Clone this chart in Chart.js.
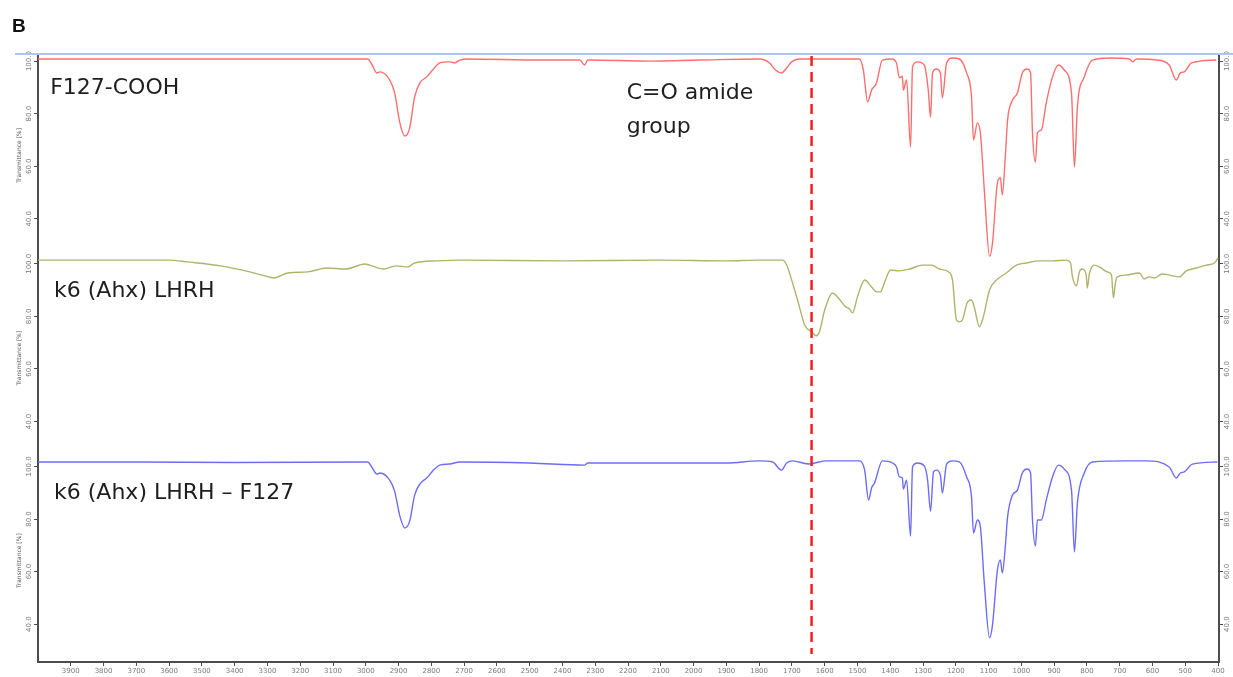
<!DOCTYPE html>
<html>
<head>
<meta charset="utf-8">
<script src="https://cdn.jsdelivr.net/npm/chart.js@4.4.1/dist/chart.umd.min.js"></script>
<style>
  html, body { margin: 0; padding: 0; background: #fff; }
  #wrap { position: relative; width: 1233px; height: 677px; }
  #tag { position: absolute; left: 12px; top: 15px; font: bold 19px "Liberation Sans", Arial, sans-serif; color: #111; }
</style>
</head>
<body>
<div id="wrap">
  <canvas id="ftir" width="1233" height="677"></canvas>
  <div id="tag">B</div>
</div>
<script>
// FTIR spectra, wavenumber (cm-1) vs transmittance (%)
const names = ['F127-COOH', 'k6 (Ahx) LHRH', 'k6 (Ahx) LHRH \u2013 F127'];

const redWn = [
  4000, 3506, 2994, 2982, 2966, 2957, 2927, 2912, 2896, 2881,
  2866, 2851, 2835, 2814, 2796, 2774, 2744, 2729, 2713, 2692,
  2469, 2347, 2332, 2323, 2134, 1982, 1799, 1768, 1750, 1732,
  1716, 1701, 1677, 1494, 1482, 1469, 1457, 1442, 1424, 1396,
  1381, 1372, 1363, 1360, 1350, 1338, 1332, 1317, 1296, 1284,
  1277, 1271, 1259, 1247, 1241, 1228, 1210, 1189, 1167, 1152,
  1146, 1134, 1125, 1113, 1097, 1088, 1073, 1064, 1058, 1049,
  1042, 1027, 1012, 997, 982, 972, 966, 957, 951, 939,
  924, 905, 887, 869, 847, 838, 829, 808, 783, 731,
  670, 661, 649, 588, 549, 527, 515, 503, 481, 405];
const redT = [
  100.8, 100.8, 100.8, 98.9, 95.5, 95.9, 92.8, 87.9, 76.5, 71.5,
  74.6, 86.4, 91.7, 94.0, 96.6, 99.3, 99.7, 99.3, 100.4, 100.8,
  100.4, 100.4, 98.5, 100.4, 100.0, 100.4, 100.8, 99.3, 96.6, 95.5,
  97.4, 99.7, 100.8, 100.8, 96.6, 84.5, 89.0, 91.7, 100.4, 100.8,
  99.3, 93.6, 94.3, 89.0, 92.8, 67.3, 97.8, 99.7, 98.5, 89.0,
  78.7, 95.5, 97.0, 95.5, 86.0, 99.3, 101.2, 100.8, 95.5, 86.4,
  70.0, 76.5, 72.7, 51.0, 25.7, 30.8, 53.7, 55.6, 49.1, 63.5,
  77.6, 85.2, 87.9, 95.5, 97.0, 95.5, 72.7, 61.6, 72.7, 73.8,
  84.1, 94.0, 98.5, 96.6, 87.9, 59.7, 82.6, 94.0, 100.4, 101.2,
  100.8, 99.7, 100.8, 100.4, 98.5, 92.8, 95.5, 95.9, 99.3, 100.4];

const greenWn = [
  4000, 3601, 3543, 3442, 3354, 3296, 3280, 3238, 3177, 3119,
  3061, 3003, 2988, 2945, 2908, 2872, 2851, 2783, 2710, 2400,
  2100, 1900, 1799, 1728, 1716, 1698, 1677, 1661, 1640, 1625,
  1616, 1600, 1576, 1561, 1536, 1524, 1515, 1500, 1478, 1457,
  1442, 1430, 1417, 1399, 1372, 1341, 1302, 1274, 1250, 1222,
  1210, 1198, 1189, 1180, 1164, 1152, 1143, 1128, 1116, 1097,
  1076, 1046, 1015, 985, 945, 905, 863, 850, 844, 832,
  823, 814, 802, 799, 792, 777, 762, 738, 725, 719,
  713, 707, 680, 640, 625, 610, 594, 570, 549, 518,
  497, 466, 436, 411, 400];
const greenT = [
  101.4, 101.4, 100.7, 99.2, 96.9, 95.0, 94.6, 96.5, 96.9, 98.4,
  98.0, 99.9, 99.5, 98.0, 99.2, 98.8, 100.3, 101.1, 101.4, 101.1,
  101.4, 101.1, 101.4, 101.4, 99.5, 92.7, 83.6, 76.7, 74.1, 72.6,
  74.1, 82.4, 88.9, 87.4, 83.6, 82.8, 81.3, 87.4, 93.8, 91.2,
  89.3, 89.3, 93.1, 97.6, 97.3, 98.0, 99.5, 99.5, 98.0, 96.9,
  93.8, 78.6, 77.9, 78.6, 85.5, 86.2, 83.2, 76.0, 79.8, 90.0,
  93.8, 96.5, 99.5, 100.3, 101.1, 101.1, 101.4, 100.3, 95.0, 91.6,
  96.9, 98.0, 95.7, 90.8, 96.5, 99.5, 98.8, 96.9, 95.7, 87.0,
  92.7, 95.0, 95.7, 96.5, 94.2, 95.0, 94.6, 96.1, 95.7, 95.0,
  97.3, 98.4, 99.5, 100.3, 102.2];

const blueWn = [
  4000, 3700, 3400, 2994, 2982, 2966, 2957, 2927, 2912, 2896,
  2881, 2866, 2851, 2835, 2814, 2796, 2774, 2744, 2713, 2500,
  2332, 2323, 2100, 1900, 1799, 1759, 1732, 1716, 1698, 1646,
  1631, 1594, 1494, 1478, 1466, 1457, 1448, 1424, 1393, 1381,
  1372, 1363, 1360, 1350, 1338, 1332, 1317, 1296, 1286, 1277,
  1268, 1259, 1247, 1241, 1228, 1210, 1189, 1167, 1152, 1146,
  1134, 1125, 1113, 1097, 1088, 1073, 1064, 1058, 1049, 1042,
  1027, 1012, 997, 982, 972, 966, 957, 951, 939, 924,
  905, 887, 869, 847, 838, 829, 808, 783, 680, 619,
  549, 527, 515, 503, 478, 402];
const blueT = [
  101.7, 101.7, 101.5, 101.7, 99.8, 97.1, 97.5, 94.8, 90.6, 81.1,
  76.6, 79.2, 89.1, 93.3, 95.6, 98.3, 100.5, 100.9, 101.7, 101.3,
  100.5, 101.3, 101.3, 101.3, 102.1, 101.7, 98.6, 101.3, 102.1, 100.9,
  101.3, 102.1, 102.1, 98.6, 87.2, 91.8, 93.7, 102.1, 101.3, 99.8,
  96.0, 95.6, 91.4, 94.8, 73.5, 99.8, 101.3, 100.2, 94.8, 83.0,
  97.9, 98.6, 96.7, 89.9, 100.9, 102.1, 101.7, 96.0, 88.4, 74.7,
  79.6, 77.0, 55.7, 34.8, 39.7, 60.6, 64.4, 59.5, 69.4, 80.8,
  89.1, 91.0, 97.5, 99.0, 97.5, 79.6, 69.7, 79.6, 79.6, 87.2,
  96.0, 100.5, 99.0, 91.0, 67.5, 86.1, 97.5, 101.7, 102.1, 102.1,
  99.8, 95.6, 97.5, 97.9, 100.9, 101.7];

const xTicks = [3900, 3800, 3700, 3600, 3500, 3400, 3300, 3200, 3100, 3000, 2900, 2800,
  2700, 2600, 2500, 2400, 2300, 2200, 2100, 2000, 1900, 1800, 1700, 1600, 1500, 1400,
  1300, 1200, 1100, 1000, 900, 800, 700, 600, 500, 400];
const yTicks = [40, 60, 80, 100];
const amideWn = 1640;

const tMin = 25.6, tMax = 102.7;
const axisCol = '#4d4d4d';
const tickCol = '#7a7a7a';

function pts(wn, t) {
  return wn.map((x, i) => ({ x: x, y: t[i] }));
}

function panelAxis(pos, weight) {
  return {
    type: 'linear',
    position: pos,
    stack: 'spectra',
    stackWeight: 1,
    weight: weight,
    min: tMin,
    max: tMax,
    afterBuildTicks: s => { s.ticks = yTicks.map(v => ({ value: v })); },
    afterFit: s => { s.width = pos === 'left' ? 38 : 14; },
    border: { display: true, color: axisCol, width: 2 },
    grid: { drawOnChartArea: false, drawTicks: true, tickLength: 4, color: axisCol },
    ticks: {
      minRotation: 90, maxRotation: 90, crossAlign: 'center',
      padding: pos === 'left' ? -5 : -6,
      font: { size: 7, family: 'DejaVu Sans' }, color: tickCol,
      callback: v => Number(v).toFixed(1)
    },
    title: {
      display: pos === 'left', text: 'Transmittance [%]',
      font: { size: 6, family: 'DejaVu Sans' }, color: '#555',
      padding: { top: 16, bottom: 0 }
    }
  };
}

const spec = (label, wn, t, axis, col) => ({
  label: label,
  data: pts(wn, t),
  yAxisID: axis,
  borderColor: col,
  borderWidth: 1.4,
  pointRadius: 0,
  cubicInterpolationMode: 'monotone',
  fill: false
});

// frame line, amide marker and panel captions
const overlay = {
  id: 'overlay',
  afterDatasetsDraw(chart) {
    const { ctx, chartArea, scales } = chart;
    ctx.save();
    ctx.strokeStyle = '#a9c8ec';
    ctx.lineWidth = 2;
    ctx.beginPath();
    ctx.moveTo(15, chartArea.top);
    ctx.lineTo(chart.width, chartArea.top);
    ctx.stroke();

    const ax = scales.x.getPixelForValue(amideWn);
    ctx.strokeStyle = '#f0201e';
    ctx.lineWidth = 2.5;
    ctx.setLineDash([10, 6]);
    ctx.beginPath();
    ctx.moveTo(ax, chartArea.top + 2);
    ctx.lineTo(ax, chartArea.bottom - 8);
    ctx.stroke();
    ctx.setLineDash([]);

    ctx.fillStyle = '#1e1e1e';
    ctx.font = '22px "DejaVu Sans"';
    ctx.textBaseline = 'middle';
    ctx.textAlign = 'left';
    const ids = ['yTop', 'yMid', 'yBot'];
    const capWn = [3963, 3951, 3951];
    names.forEach((n, i) => {
      ctx.fillText(n, scales.x.getPixelForValue(capWn[i]), scales[ids[i]].getPixelForValue(89.7));
    });
    ctx.fillText('C=O amide', scales.x.getPixelForValue(2204), scales.yTop.getPixelForValue(87.9));
    ctx.fillText('group', scales.x.getPixelForValue(2204), scales.yTop.getPixelForValue(74.9));
    ctx.restore();
  }
};

new Chart(document.getElementById('ftir'), {
  type: 'line',
  data: {
    datasets: [
      spec(names[0], redWn, redT, 'yTop', 'rgb(255,110,110)'),
      spec(names[1], greenWn, greenT, 'yMid', 'rgb(178,178,110)'),
      spec(names[2], blueWn, blueT, 'yBot', 'rgb(108,108,250)')
    ]
  },
  options: {
    responsive: false,
    animation: false,
    layout: { padding: { top: 54, left: 0, right: 0, bottom: 0 } },
    plugins: { legend: { display: false }, tooltip: { enabled: false } },
    scales: {
      x: {
        type: 'linear',
        reverse: true,
        min: 397,
        max: 4000,
        afterBuildTicks: s => { s.ticks = xTicks.map(v => ({ value: v })); },
        afterFit: s => { s.height = 15; },
        border: { display: true, color: axisCol, width: 2 },
        grid: { drawOnChartArea: false, drawTicks: true, tickLength: 4, color: axisCol },
        ticks: {
          autoSkip: false, maxRotation: 0, padding: 1,
          font: { size: 7, family: 'DejaVu Sans' }, color: tickCol,
          callback: v => String(v)
        }
      },
      yTop: panelAxis('left', 3),
      yMid: panelAxis('left', 2),
      yBot: panelAxis('left', 1),
      yTopR: panelAxis('right', 1),
      yMidR: panelAxis('right', 2),
      yBotR: panelAxis('right', 3)
    }
  },
  plugins: [overlay]
});
</script>
</body>
</html>
